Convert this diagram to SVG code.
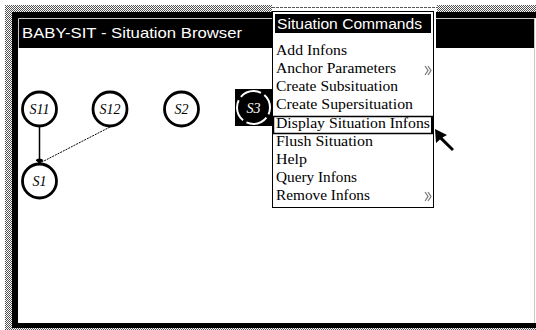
<svg xmlns="http://www.w3.org/2000/svg" width="536" height="330" viewBox="0 0 536 330">
<defs>
<pattern id="dots" width="2" height="2" patternUnits="userSpaceOnUse">
<rect width="2" height="2" fill="#ffffff"/>
<rect x="0" y="0" width="1" height="1" fill="#555"/>
<rect x="1" y="1" width="1" height="1" fill="#555"/>
</pattern>
<marker id="blob" viewBox="0 0 8 6" refX="4" refY="5" markerWidth="8" markerHeight="6" markerUnits="userSpaceOnUse" orient="0">
<path d="M0,2 Q4,-1 8,2 L4,6 Z" fill="#000"/>
</marker>
<style>
.node circle{fill:#fff;stroke:#000;stroke-width:2.8}
.lbl{font-family:"Liberation Serif","DejaVu Serif",serif;font-style:italic;font-size:14px;text-anchor:middle;fill:#000}
.item{font-family:"Liberation Serif","DejaVu Serif",serif;font-size:15px;fill:#000}
.sans{font-family:"Liberation Sans",Arial,sans-serif;fill:#fff}
.edge{stroke:#000;fill:none}
</style>
</defs>
<rect width="536" height="330" fill="#fff"/>
<!-- outer dotted band -->
<rect x="5" y="5" width="531" height="7" fill="url(#dots)"/>
<rect x="5" y="5" width="7" height="325" fill="url(#dots)"/>
<rect x="5" y="328" width="531" height="2" fill="url(#dots)"/>
<!-- window frame -->
<rect x="12" y="12" width="524" height="316" fill="#000"/>
<rect x="18" y="48" width="516" height="275" fill="#fff"/>
<rect x="535" y="18" width="1" height="305" fill="#fff"/>
<path d="M18.5,48 V18.5 H535 M534.5,18.5 V323" stroke="#c8c8c8" stroke-width="1" fill="none"/>
<text class="sans" x="22" y="38" font-size="15" textLength="220" lengthAdjust="spacingAndGlyphs">BABY-SIT - Situation Browser</text>
<!-- connectors -->
<g id="connectors">
<line class="edge" x1="39.5" y1="127" x2="39.5" y2="163" stroke-width="1.5" marker-end="url(#blob)"/>
<line class="edge" x1="110" y1="127" x2="40" y2="163" stroke-width="1" stroke-dasharray="2,1"/>
</g>
<!-- nodes -->
<g id="node-S11" class="node"><circle cx="39.5" cy="109" r="17"/><text class="lbl" x="39.5" y="114">S11</text></g>
<g id="node-S12" class="node"><circle cx="110" cy="109" r="17"/><text class="lbl" x="110" y="114">S12</text></g>
<g id="node-S2" class="node"><circle cx="181.5" cy="109" r="17"/><text class="lbl" x="181.5" y="114">S2</text></g>
<g id="node-S3">
<rect x="235" y="89" width="37" height="37" fill="#000"/>
<circle cx="253.5" cy="107.5" r="16.5" fill="#000" stroke="#fff" stroke-width="2" stroke-dasharray="22,4" stroke-dashoffset="-11"/>
<text class="lbl" x="253.5" y="112.5" style="fill:#fff">S3</text>
</g>
<g id="node-S1" class="node"><circle cx="39.5" cy="181" r="17"/><text class="lbl" x="39.5" y="186">S1</text></g>
<!-- menu -->
<g id="menu">
<rect x="272" y="5" width="165" height="7" fill="#fff"/>
<line x1="272" y1="7.5" x2="437" y2="7.5" stroke="#555" stroke-dasharray="3,1"/>
<rect x="433" y="12" width="3" height="36" fill="#fff"/>
<rect x="272.5" y="11.5" width="161" height="196" fill="#fff" stroke="#000" stroke-width="1"/>
<rect x="275" y="14" width="156" height="19" fill="#000"/>
<text class="sans" x="277" y="29" font-size="15" textLength="145" lengthAdjust="spacingAndGlyphs">Situation Commands</text>
<text class="item" x="276" y="55" textLength="71" lengthAdjust="spacingAndGlyphs">Add Infons</text>
<text class="item" x="276" y="73" textLength="120" lengthAdjust="spacingAndGlyphs">Anchor Parameters</text>
<path d="M425,66 L428,70.5 L425,75 M428,66 L431,70.5 L428,75" stroke="#777" stroke-width="1.2" fill="none"/>
<text class="item" x="276" y="91" textLength="122" lengthAdjust="spacingAndGlyphs">Create Subsituation</text>
<text class="item" x="276" y="109" textLength="137" lengthAdjust="spacingAndGlyphs">Create Supersituation</text>
<rect x="273.5" y="116.5" width="159" height="17" fill="none" stroke="#000" stroke-width="1.5"/>
<rect x="431" y="116" width="3" height="18" fill="#000"/>
<text class="item" x="276" y="128" textLength="154" lengthAdjust="spacingAndGlyphs">Display Situation Infons</text>
<text class="item" x="276" y="146" textLength="97" lengthAdjust="spacingAndGlyphs">Flush Situation</text>
<text class="item" x="276" y="164" textLength="31" lengthAdjust="spacingAndGlyphs">Help</text>
<text class="item" x="276" y="182" textLength="81" lengthAdjust="spacingAndGlyphs">Query Infons</text>
<text class="item" x="276" y="200" textLength="94" lengthAdjust="spacingAndGlyphs">Remove Infons</text>
<path d="M425,192 L428,196.5 L425,201 M428,192 L431,196.5 L428,201" stroke="#777" stroke-width="1.2" fill="none"/>
</g>
<!-- cursor -->
<path d="M435,129 L436,143 L440,139.5 L452,151 L454,149 L442.5,137.5 L447,135 Z" fill="#000"/>
</svg>
